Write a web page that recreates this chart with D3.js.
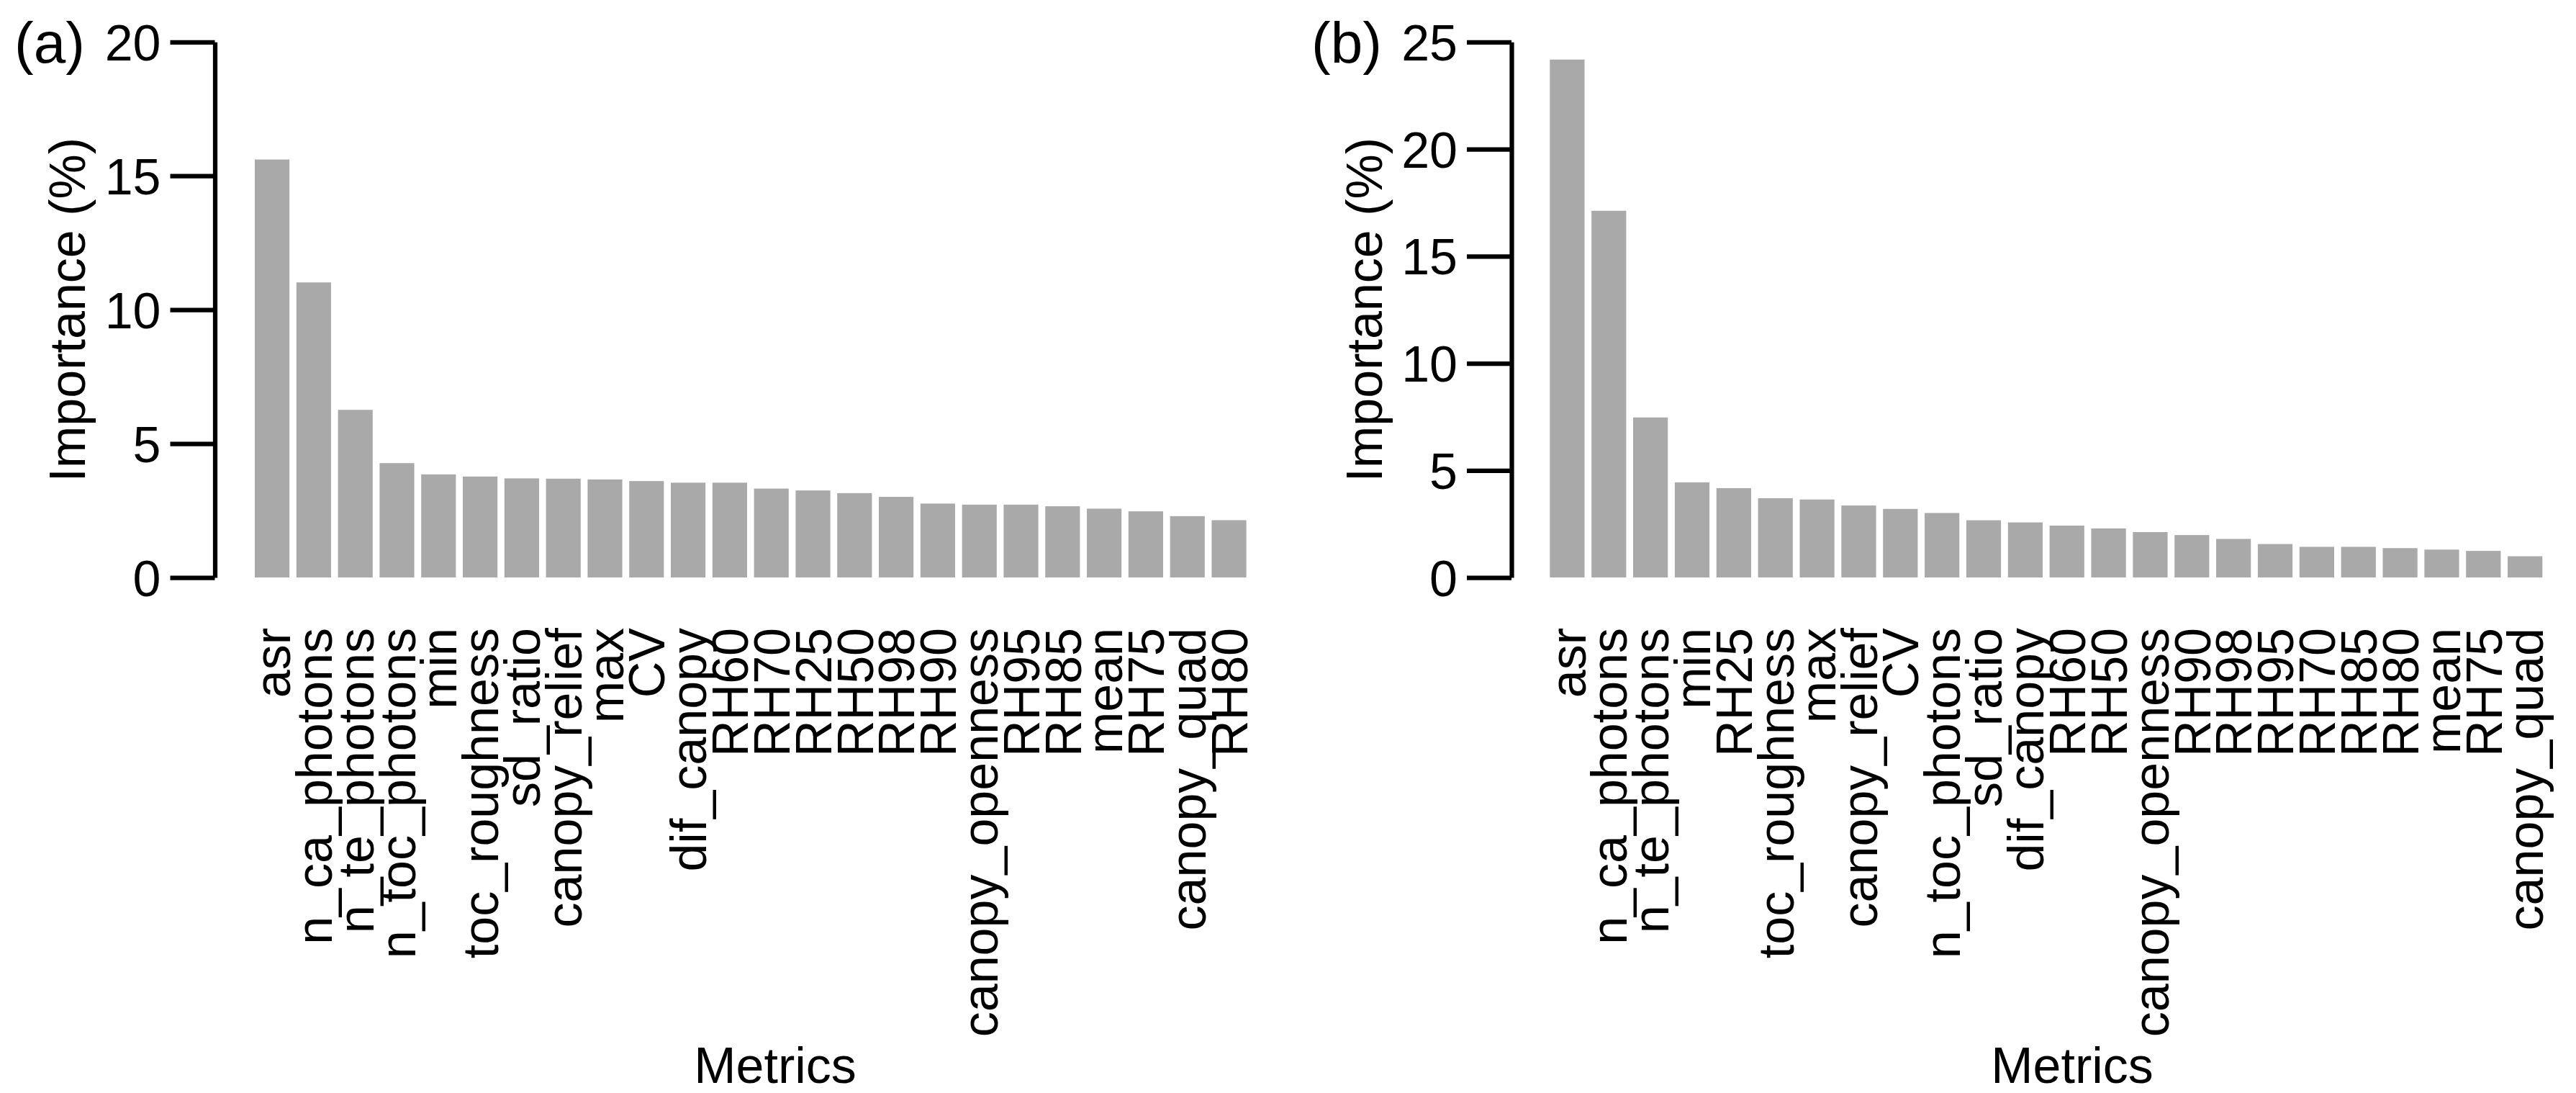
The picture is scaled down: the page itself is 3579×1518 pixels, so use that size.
<!DOCTYPE html>
<html>
<head>
  <meta charset="utf-8">
  <script src="https://cdn.jsdelivr.net/npm/d3@7"></script>
<style>
  body { margin: 0; background: #fff; }
  text { font-family: "Liberation Sans", Arial, Helvetica, sans-serif; fill: #000; }
</style>
</head>
<body>
<script type="text/javascript">
  // panel (a)
  var metricsA = ["asr", "n_ca_photons", "n_te_photons", "n_toc_photons", "min",
    "toc_roughness", "sd_ratio", "canopy_relief", "max", "CV", "dif_canopy",
    "RH60", "RH70", "RH25", "RH50", "RH98", "RH90", "canopy_openness", "RH95",
    "RH85", "mean", "RH75", "canopy_quad", "RH80"];
  var importanceA = [15.61, 11.02, 6.26, 4.27, 3.85, 3.77, 3.70, 3.69, 3.66, 3.60,
    3.54, 3.54, 3.32, 3.25, 3.15, 3.01, 2.76, 2.72, 2.72, 2.66, 2.57, 2.47, 2.29, 2.14];
  var ticksA = [0, 5, 10, 15, 20];

  // panel (b)
  var metricsB = ["asr", "n_ca_photons", "n_te_photons", "min", "RH25",
    "toc_roughness", "max", "canopy_relief", "CV", "n_toc_photons", "sd_ratio",
    "dif_canopy", "RH60", "RH50", "canopy_openness", "RH90", "RH98", "RH95",
    "RH70", "RH85", "RH80", "mean", "RH75", "canopy_quad"];
  var importanceB = [24.18, 17.12, 7.47, 4.44, 4.17, 3.70, 3.64, 3.36, 3.20, 3.01,
    2.67, 2.57, 2.42, 2.29, 2.12, 1.98, 1.80, 1.56, 1.43, 1.43, 1.37, 1.30, 1.24, 0.99];
  var ticksB = [0, 5, 10, 15, 20, 25];

  var W = 3579, H = 1518;
  var fs = 70;        // text size
  var lw = 6.25;      // R lwd=1 at this resolution
  var yTop = 58.3, yBot = 802;

  var svg = d3.select("body").append("svg")
      .attr("width", W)
      .attr("height", H);

  function panel(tag, metrics, values, ticks, dx, barL, barR, axisX) {
    var g = svg.append("g").attr("transform", "translate(" + dx + ",0)");

    var x = d3.scaleBand()
        .domain(metrics)
        .range([barL, barR])
        .paddingInner(1 / 6)
        .paddingOuter(0);

    var y = d3.scaleLinear()
        .domain([0, d3.max(ticks)])
        .range([yBot, yTop]);

    // bars
    g.selectAll("rect.bar")
        .data(values)
        .enter()
        .append("rect")
          .attr("class", "bar")
          .attr("x", function (d, i) { return x(metrics[i]); })
          .attr("width", x.bandwidth())
          .attr("y", function (d) { return y(d); })
          .attr("height", function (d) { return y(0) - y(d); })
          .style("fill", "#a9a9a9");

    // y axis
    var ax = g.append("g")
        .attr("transform", "translate(" + axisX + ",0)")
        .call(d3.axisLeft(y).tickValues(ticks).tickSize(62).tickSizeOuter(0).tickPadding(13));
    ax.selectAll("path, line").style("stroke", "#000").style("stroke-width", lw);
    ax.selectAll("text").style("font-size", fs + "px").attr("dy", "0.36em")
        .style("font-family", "'Liberation Sans', Arial, sans-serif");

    // category labels, vertical
    g.selectAll("text.lab")
        .data(metrics)
        .enter()
        .append("text")
          .attr("class", "lab")
          .attr("transform", function (d) {
            return "translate(" + (x(d) + x.bandwidth() / 2) + ",872) rotate(-90)";
          })
          .attr("dy", "0.36em")
          .style("text-anchor", "end")
          .style("font-size", fs + "px")
          .text(function (d) { return d; });

    // axis titles
    g.append("text")
        .attr("transform", "translate(118," + ((yTop + yBot) / 2) + ") rotate(-90)")
        .style("text-anchor", "middle")
        .style("font-size", fs + "px")
        .text("Importance (%)");

    g.append("text")
        .attr("x", 1077)
        .attr("y", 1504)
        .style("text-anchor", "middle")
        .style("font-size", fs + "px")
        .text("Metrics");

    // panel tag
    g.append("text")
        .attr("x", 20)
        .attr("y", 87)
        .style("font-size", "80px")
        .text(tag);
  }

  panel("(a)", metricsA, importanceA, ticksA, 0, 354, 1731.6, 298.5);
  panel("(b)", metricsB, importanceB, ticksB, 1802, 2153.3 - 1802, 3532.3 - 1802, 2100 - 1802);
</script>
</body>
</html>
